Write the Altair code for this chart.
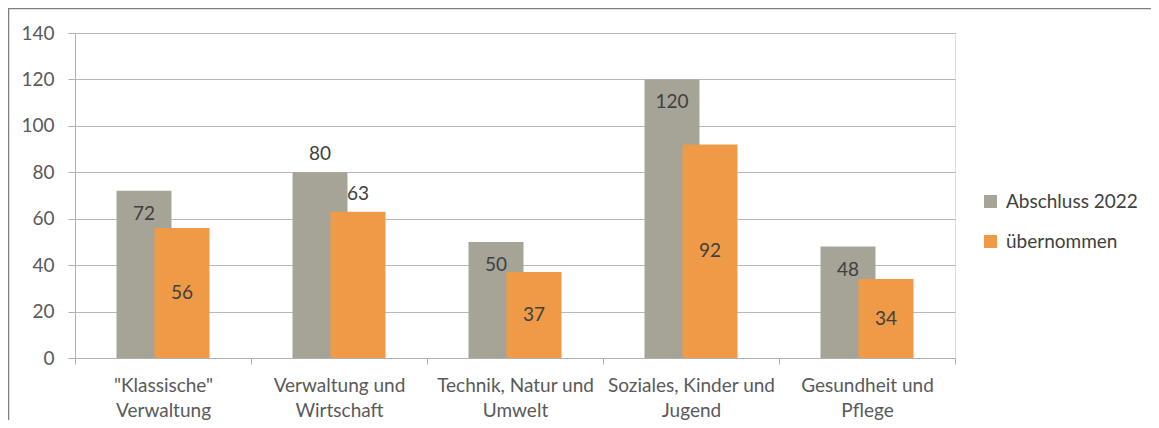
import altair as alt
import pandas as pd

categories = ['"Klassische" Verwaltung', 'Verwaltung und Wirtschaft',
              'Technik, Natur und Umwelt', 'Soziales, Kinder und Jugend',
              'Gesundheit und Pflege']
series = ["Abschluss 2022", "übernommen"]
abschluss = [72, 80, 50, 120, 48]
uebernommen = [56, 63, 37, 92, 34]
# Excel data-label placement per bar
place_abschluss = ["inside", "outside", "inside", "inside", "inside"]
place_uebernommen = ["center", "outside", "center", "center", "center"]
colors = ["#a5a497", "#ee9a47"]

rows = []
for c, v, p in zip(categories, abschluss, place_abschluss):
    rows.append({"category": c, "series": series[0], "value": v, "place": p})
for c, v, p in zip(categories, uebernommen, place_uebernommen):
    rows.append({"category": c, "series": series[1], "value": v, "place": p})
df = pd.DataFrame(rows)

FONT = "Lato"
FS = 19
W, H = 880, 325
offsets = {series[0]: -19, series[1]: 19}

x_enc = alt.X("category:N", sort=categories,
              scale=alt.Scale(paddingInner=0, paddingOuter=0),
              axis=alt.Axis(title=None, labelAngle=0, tickBand="extent",
                            labelExpr="[substring(datum.label, 0, lastindexof(datum.label, ' ')), substring(datum.label, lastindexof(datum.label, ' ') + 1)]",
                            labelFont=FONT, labelFontSize=FS, labelColor="#595959",
                            labelLineHeight=25, labelPadding=12,
                            domainColor="#b0b0b0", tickColor="#b0b0b0",
                            tickSize=6, grid=False))
y_enc = alt.Y("value:Q", scale=alt.Scale(domain=[0, 140], nice=False),
              axis=alt.Axis(title=None, values=list(range(0, 141, 5)),
                            labelExpr="datum.value % 20 === 0 ? datum.label : ''",
                            labelFont=FONT, labelFontSize=FS, labelColor="#595959",
                            labelPadding=14,
                            tickSize={"condition": {"test": "datum.value % 20 === 0", "value": 7}, "value": 4},
                            gridOpacity={"condition": {"test": "datum.value % 20 === 0", "value": 1}, "value": 0},
                            gridColor="#b8b8b8", domainColor="#b0b0b0", tickColor="#b0b0b0"))
color_enc = alt.Color("series:N", scale=alt.Scale(domain=series, range=colors),
                      legend=alt.Legend(title=None, orient="none", legendX=906, legendY=159,
                                        symbolType="square", symbolSize=169,
                                        symbolStrokeWidth=0, labelFont=FONT,
                                        labelFontSize=FS, labelColor="#404040",
                                        rowPadding=20, labelOffset=6, padding=0))

base = alt.Chart(df)
layers = []
border = alt.Chart(pd.DataFrame({"a": [0]})).mark_rect(
    fillOpacity=0, stroke="#808080", strokeWidth=1.5).encode(
    x=alt.value(-66.5), x2=alt.value(1300), y=alt.value(-24.5), y2=alt.value(600))
layers.append(border)

for s in series:
    layers.append(base.transform_filter(alt.datum.series == s).mark_bar(
        width=55, xOffset=offsets[s]).encode(x=x_enc, y=y_enc, color=color_enc))

dys = {"inside": 23, "outside": -18, "center": 0}
for s in series:
    for p in ["inside", "outside", "center"]:
        layers.append(base.transform_filter(
            (alt.datum.series == s) & (alt.datum.place == p)
        ).transform_calculate(
            ypos="datum.place === 'center' ? datum.value / 2 : datum.value"
        ).mark_text(font=FONT, fontSize=FS, color="#404040", baseline="middle",
                    align="center", dy=dys[p], xOffset=offsets[s]).encode(
            x=alt.X("category:N", sort=categories),
            y=alt.Y("ypos:Q"),
            text="value:Q"))

chart = alt.layer(*layers).properties(
    width=W, height=H,
    autosize=alt.AutoSizeParams(type="none"),
    padding={"left": 67, "top": 25, "right": 196, "bottom": 62},
).configure_view(stroke=None).configure(background="white")

chart.save("out.html", embed_options={"renderer": "svg", "actions": False})
